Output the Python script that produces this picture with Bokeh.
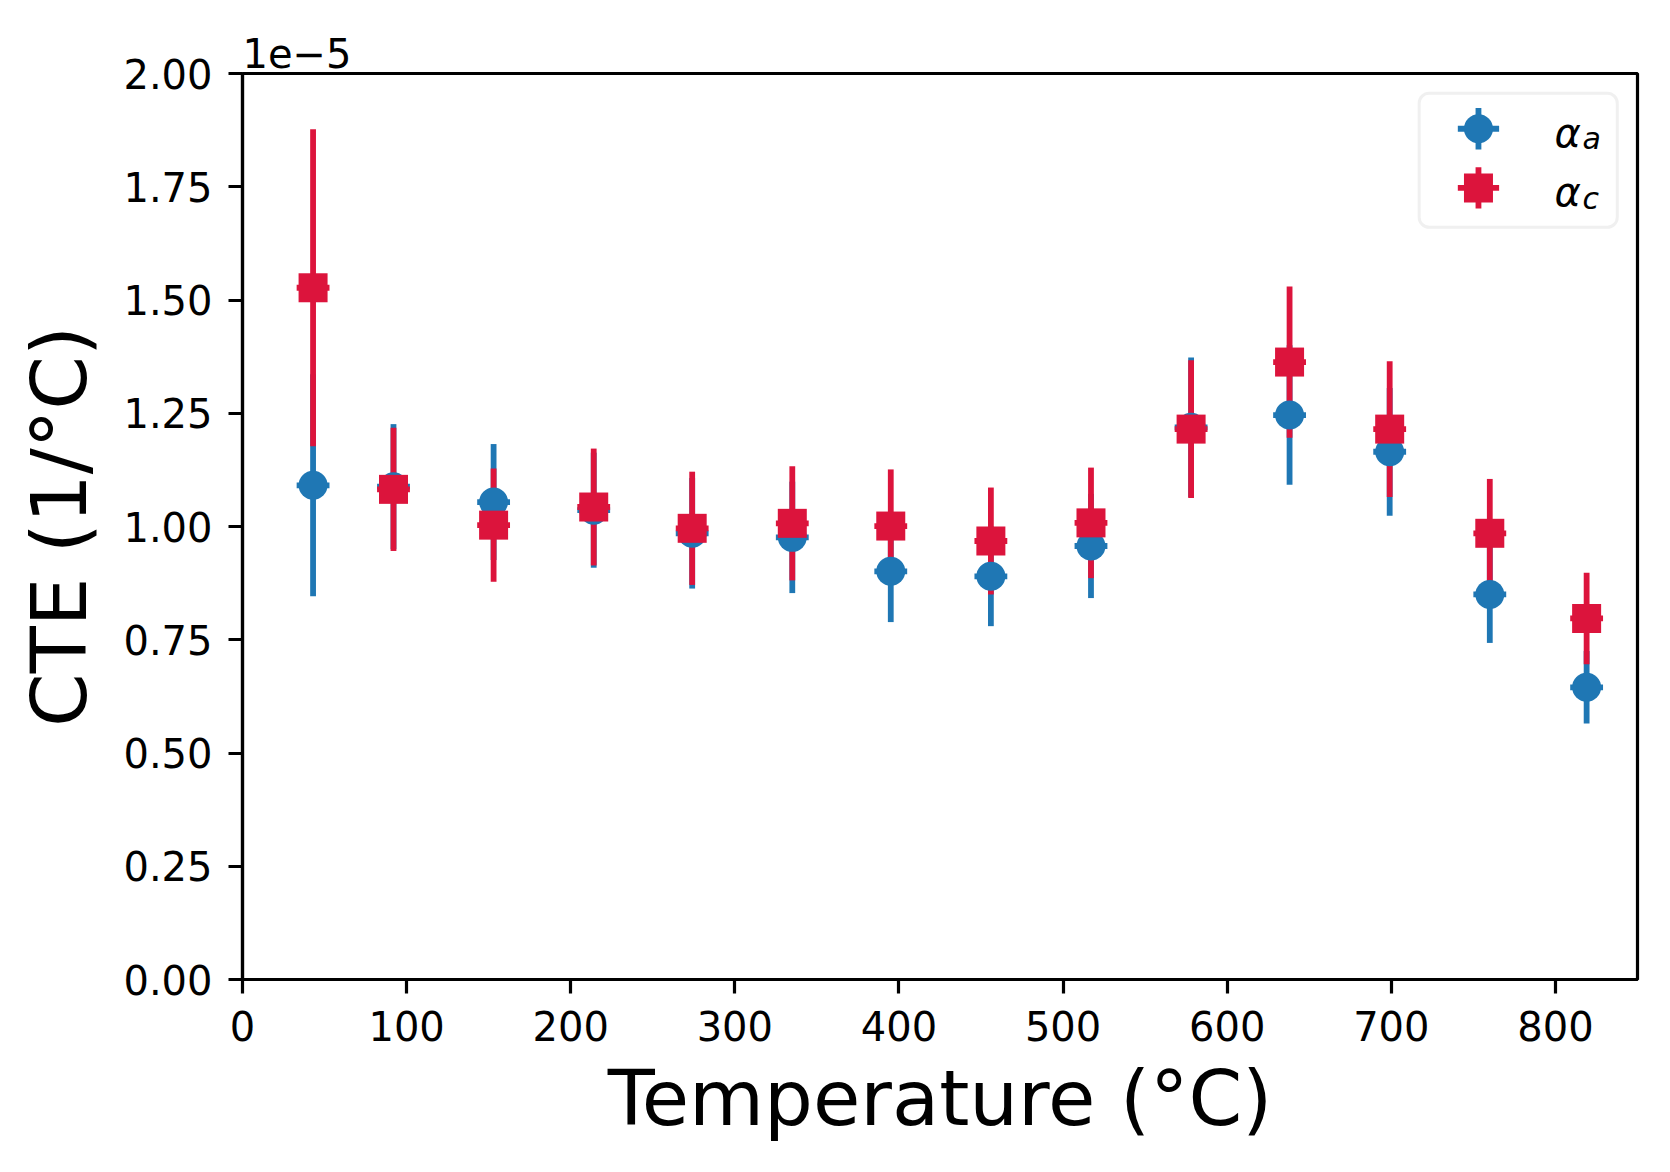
from bokeh.plotting import figure
from bokeh.models import (Range1d, FixedTicker, NumeralTickFormatter, Label,
                          BoxAnnotation, ColumnDataSource)
from bokeh.embed import file_html
from bokeh.resources import INLINE

# ---- data (CTE values in units of 1e-5 1/°C) ----
temperature = [43, 92, 153, 214, 274, 335, 395, 456, 517, 578, 638, 699, 760, 819]
temperature_err = [10, 10, 10, 10, 10, 10, 10, 10, 10, 10, 10, 10, 10, 10]
alpha_a = [1.091, 1.088, 1.054, 1.036, 0.985, 0.976, 0.901, 0.890, 0.957, 1.219, 1.246, 1.165, 0.850, 0.645]
alpha_a_err = [0.245, 0.138, 0.128, 0.127, 0.122, 0.123, 0.112, 0.110, 0.115, 0.154, 0.154, 0.141, 0.107, 0.080]
alpha_c = [1.527, 1.082, 1.003, 1.043, 0.996, 1.007, 1.001, 0.968, 1.008, 1.215, 1.363, 1.215, 0.985, 0.797]
alpha_c_err = [0.350, 0.136, 0.125, 0.129, 0.125, 0.126, 0.125, 0.118, 0.122, 0.152, 0.167, 0.150, 0.120, 0.101]

x_ticks = [0, 100, 200, 300, 400, 500, 600, 700, 800]
y_ticks = [0.0, 0.25, 0.5, 0.75, 1.0, 1.25, 1.5, 1.75, 2.0]
x_limits = (0, 850)
y_limits = (0, 2.0)
offset_text = "1e\u22125"
legend_labels = ["a", "c"]

BLUE = "#1f77b4"
RED = "#dc143c"
FONT = "DejaVu Sans"

p = figure(frame_width=1395, frame_height=906,
           x_range=Range1d(*x_limits), y_range=Range1d(*y_limits),
           output_backend="svg", toolbar_location=None,
           min_border_left=242, min_border_right=13,
           min_border_top=73, min_border_bottom=171)

def make_source(x, xe, y, ye):
    return ColumnDataSource(dict(
        x=x, y=y,
        x0=[a - b for a, b in zip(x, xe)], x1=[a + b for a, b in zip(x, xe)],
        y0=[a - b for a, b in zip(y, ye)], y1=[a + b for a, b in zip(y, ye)],
    ))

src_a = make_source(temperature, temperature_err, alpha_a, alpha_a_err)
src_c = make_source(temperature, temperature_err, alpha_c, alpha_c_err)

LW = 5.8
for src, col in [(src_a, BLUE), (src_c, RED)]:
    p.segment(x0="x", y0="y0", x1="x", y1="y1", source=src, line_color=col, line_width=LW)
    p.segment(x0="x0", y0="y", x1="x1", y1="y", source=src, line_color=col, line_width=LW)

p.scatter(x="x", y="y", source=src_a, marker="circle", size=29,
          fill_color=BLUE, line_color=None)
p.scatter(x="x", y="y", source=src_c, marker="square", size=29,
          fill_color=RED, line_color=None)

# ---- axes styling ----
p.xaxis.ticker = FixedTicker(ticks=x_ticks)
p.yaxis.ticker = FixedTicker(ticks=y_ticks)
p.yaxis.formatter = NumeralTickFormatter(format="0.00")
p.xaxis.axis_label = "Temperature (°C)"
p.yaxis.axis_label = "CTE (1/°C)"
for ax in (p.xaxis, p.yaxis):
    ax.axis_line_width = 3.2
    ax.axis_line_color = "black"
    ax.major_tick_line_width = 3.2
    ax.major_tick_line_color = "black"
    ax.major_tick_out = 14
    ax.major_tick_in = 0
    ax.minor_tick_line_color = None
    ax.major_label_text_font = FONT
    ax.major_label_text_font_size = "40px"
    ax.major_label_text_color = "black"
    ax.axis_label_text_font = FONT
    ax.axis_label_text_font_size = "77px"
    ax.axis_label_text_font_style = "normal"
    ax.axis_label_text_color = "black"
p.xaxis.major_label_standoff = 17
p.yaxis.major_label_standoff = 16
p.xaxis.axis_label_standoff = 10
p.yaxis.axis_label_standoff = 16

p.xgrid.visible = False
p.ygrid.visible = False
p.outline_line_color = "black"
p.outline_line_width = 3.2
p.outline_line_alpha = 1.0

p.title.text = offset_text
p.title.text_font = FONT
p.title.text_font_size = "40px"
p.title.text_font_style = "normal"
p.title.text_color = "black"
p.title.align = "left"
p.title.standoff = 12
p.title.offset = 0

# ---- legend (drawn manually, positions as fractions of the frame) ----
def fx(f):
    return x_limits[0] + f * (x_limits[1] - x_limits[0])

def fy(f):
    return y_limits[0] + f * (y_limits[1] - y_limits[0])

box = BoxAnnotation(left=fx(0.8435), right=fx(0.9855), bottom=fy(0.8303), top=fy(0.9783),
                    fill_color="white", fill_alpha=0.8, line_color="#cccccc",
                    line_width=3, border_radius=10, level="underlay")
p.add_layout(box)

mx = fx(0.886)
rows = [(fy(0.939), BLUE, "circle"), (fy(0.8737), RED, "square")]
dx = 0.0148 * (x_limits[1] - x_limits[0])
dy = 0.0228 * (y_limits[1] - y_limits[0])
for (yy, col, mk) in rows:
    leg = ColumnDataSource(dict(x=[mx], y=[yy], x0=[mx - dx], x1=[mx + dx],
                                y0=[yy - dy], y1=[yy + dy]))
    p.segment(x0="x", y0="y0", x1="x", y1="y1", source=leg, line_color=col, line_width=LW)
    p.segment(x0="x0", y0="y", x1="x1", y1="y", source=leg, line_color=col, line_width=LW)
    p.scatter(x="x", y="y", source=leg, marker=mk, size=29, fill_color=col, line_color=None)

label_rows = [(fy(0.9345), fy(0.9280), legend_labels[0]),
              (fy(0.8693), fy(0.8622), legend_labels[1])]
for (yb, ys, sub) in label_rows:
    p.add_layout(Label(x=fx(0.9405), y=yb, text="\u03b1", text_font=FONT,
                       text_font_size="40px", text_font_style="italic",
                       text_baseline="alphabetic", text_align="left", text_color="black"))
    p.add_layout(Label(x=fx(0.9605), y=ys, text=sub, text_font=FONT,
                       text_font_size="30px", text_font_style="italic",
                       text_baseline="alphabetic", text_align="left", text_color="black"))

open("out.html", "w").write(file_html(p, INLINE))
